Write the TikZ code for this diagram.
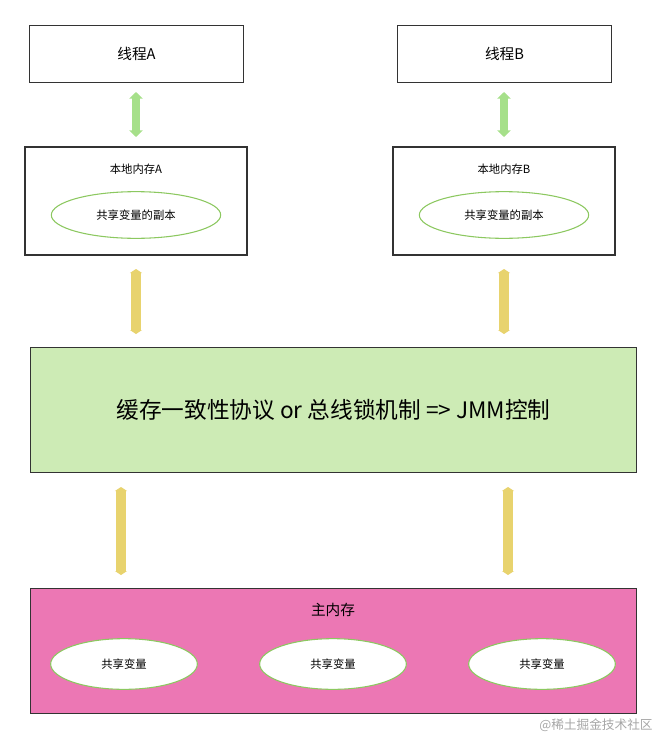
\documentclass[tikz,border=0pt]{standalone}
\usepackage{fontspec}
\setmainfont{Noto Sans CJK SC}
\usetikzlibrary{arrows.meta,shapes.geometric}
\definecolor{boxline}{HTML}{333333}
\definecolor{jmmgreen}{HTML}{CDEBB5}
\definecolor{mempink}{HTML}{EC77B4}
\definecolor{ovalgreen}{HTML}{8CC860}
\definecolor{arrowgreen}{HTML}{A6E08A}
\definecolor{busyellow}{HTML}{E8D36E}
\begin{document}
\begin{tikzpicture}[x=0.75pt,y=-0.75pt]
    \tikzstyle{thread_style}=[draw=boxline, line width=0.8pt, minimum width=160pt, minimum height=43pt, font=\fontsize{11}{13}\selectfont]
    \tikzstyle{oval_style}=[ellipse, draw=ovalgreen, fill=white, line width=0.8pt, font=\fontsize{8.5}{10}\selectfont]
    \tikzstyle{sync_style}=[<->, >={Triangle[length=5pt,width=10pt]}, line width=5.5pt, arrowgreen]
    \tikzstyle{bus_style}=[<->, >={Triangle[length=3pt,width=9pt]}, line width=7.5pt, busyellow]

    \useasboundingbox (0,0) rectangle (661,739);

    % threads
    \node[thread_style] (thread_a) at (136.5,54) {线程A};
    \node[thread_style] (thread_b) at (504.5,54) {线程B};

    % local memory
    \draw[boxline, line width=0.8pt] (25,147) rectangle (247,255);
    \draw[boxline, line width=0.8pt] (393,147) rectangle (615,255);
    \node[font=\fontsize{8.5}{10}\selectfont] (local_a) at (136,169) {本地内存A};
    \node[font=\fontsize{8.5}{10}\selectfont] (local_b) at (504,169) {本地内存B};
    \node[oval_style, minimum width=127pt, minimum height=35pt] (copy_a) at (136,215) {共享变量的副本};
    \node[oval_style, minimum width=127pt, minimum height=35pt] (copy_b) at (504,215) {共享变量的副本};

    % JMM
    \node[draw=boxline, fill=jmmgreen, line width=0.8pt, minimum width=455pt, minimum height=94pt, font=\fontsize{17}{20}\selectfont] (jmm) at (333.5,410) {缓存一致性协议 or 总线锁机制 => JMM控制};

    % main memory
    \node[draw=boxline, fill=mempink, line width=0.8pt, minimum width=455pt, minimum height=94pt] (main_mem) at (333.5,651) {};
    \node[font=\fontsize{11}{13}\selectfont] (main_label) at (333,610) {主内存};
    \foreach \x/\n in {124/1,333/2,542/3}
      \node[oval_style, minimum width=110pt, minimum height=38pt] (var_\n) at (\x,664) {共享变量};

    % connect: thread <-> local
    \coordinate (ga1) at (136,92); \coordinate (ga2) at (136,137);
    \coordinate (gb1) at (504,92); \coordinate (gb2) at (504,137);
    \draw[sync_style] (ga1) -- (ga2);
    \draw[sync_style] (gb1) -- (gb2);

    % connect: local <-> jmm <-> main
    \coordinate (ya1) at (136,269); \coordinate (ya2) at (136,334);
    \coordinate (yb1) at (504,269); \coordinate (yb2) at (504,334);
    \coordinate (yc1) at (121,487); \coordinate (yc2) at (121,575);
    \coordinate (yd1) at (508,487); \coordinate (yd2) at (508,575);
    \foreach \p in {a,b,c,d}
      \draw[bus_style] (y\p1) -- (y\p2);

    \node[gray!70, font=\fontsize{9.5}{11}\selectfont] (mark) at (596,725) {@稀土掘金技术社区};
\end{tikzpicture}
\end{document}
